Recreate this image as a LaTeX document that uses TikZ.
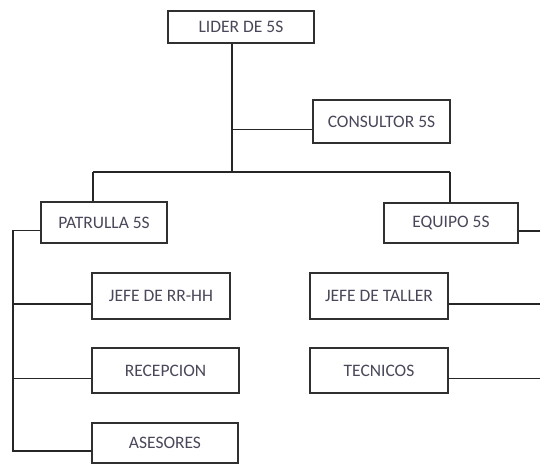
\documentclass[tikz,border=0pt]{standalone}
\usepackage{fontspec}
\setmainfont{Carlito}
\definecolor{boxline}{HTML}{303030}
\definecolor{boxtext}{HTML}{48485A}
\definecolor{linkline}{HTML}{262626}
\begin{document}
\begin{tikzpicture}[x=1pt,y=-1pt,
    unit/.style={draw=boxline, line width=2.4pt, fill=white, text=boxtext,
      align=center, inner sep=2pt, font=\fontsize{17.5}{20}\selectfont},
    link/.style={draw=linkline, line width=1.4pt}]
    \useasboundingbox (0,0) rectangle (540,465);
    % top of the chart
    \node[unit, minimum width=146pt, minimum height=32pt] (lider) at (241,27) {LIDER DE 5S};
    \node[unit, minimum width=137pt, minimum height=43pt] (consultor) at (381.5,121.5) {CONSULTOR 5S};
    \node[unit, minimum width=126pt, minimum height=41pt] (patrulla) at (104,222.5) {PATRULLA 5S};
    \node[unit, minimum width=134pt, minimum height=40pt] (equipo) at (451,223) {EQUIPO 5S};
    % left branch
    \node[unit, minimum width=138pt, minimum height=46pt] (jeferrhh) at (161,296) {JEFE DE RR-HH};
    \node[unit, minimum width=147pt, minimum height=45pt] (recepcion) at (165.5,370.5) {RECEPCION};
    \node[unit, minimum width=146pt, minimum height=40pt] (asesores) at (165,443) {ASESORES};
    % right branch
    \node[unit, minimum width=138pt, minimum height=46pt] (jefetaller) at (379,296) {JEFE DE TALLER};
    \node[unit, minimum width=138pt, minimum height=45pt] (tecnicos) at (379,370.5) {TECNICOS};
    \coordinate (fork) at (232,172);
    \coordinate (pdrop) at (93,172);
    \coordinate (edrop) at (450,172);
    \coordinate (spine) at (13,0);
    \coordinate (edge) at (540,0);
    % connectors
    \draw[link] (lider.south -| fork) -- (fork);
    \draw[link] ([yshift=-8pt]consultor.west) -- ([yshift=-8pt]consultor.west -| fork);
    \draw[link] (pdrop) -- (edrop);
    \draw[link] (pdrop) -- (pdrop |- patrulla.north);
    \draw[link] (edrop) -- (edrop |- equipo.north);
    \draw[link] ([yshift=-8pt]patrulla.west) -- ([yshift=-8pt]patrulla.west -| spine)
      -- ([yshift=-8pt]asesores.west -| spine) -- ([yshift=-8pt]asesores.west);
    \foreach \n in {jeferrhh,recepcion}
      \draw[link] ([yshift=-8pt]\n.west) -- ([yshift=-8pt]\n.west -| spine);
    \foreach \n in {equipo,jefetaller,tecnicos}
      \draw[link] ([yshift=-8pt]\n.east) -- ([yshift=-8pt]\n.east -| edge);
\end{tikzpicture}
\end{document}
